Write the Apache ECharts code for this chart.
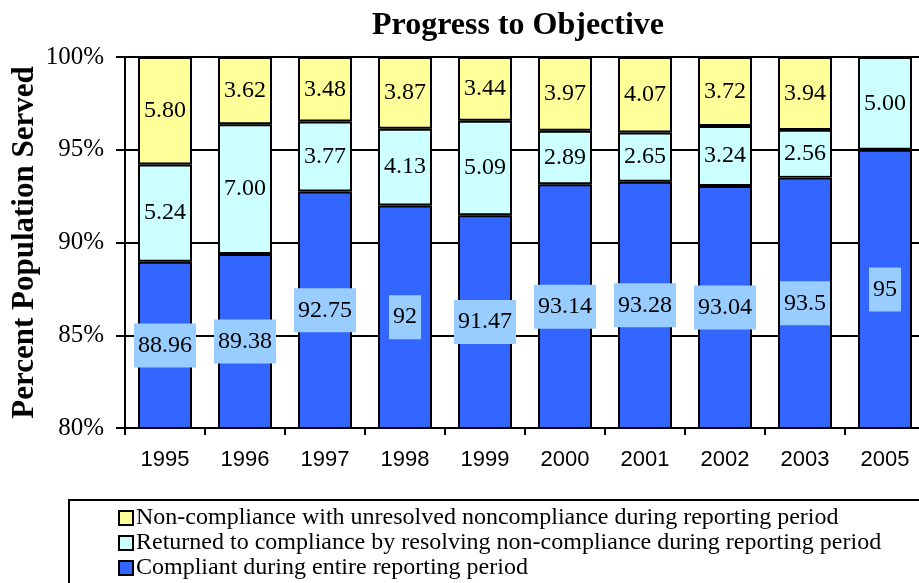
<!DOCTYPE html>
<html lang="en" style="background: #FFFFFF;height: 100%">
<head>
  <meta charset="utf-8" />
  <title>Progress to Objective</title>
  <script src="https://cdn.jsdelivr.net/npm/echarts@6/dist/echarts.min.js"></script>
</head>
<body style="margin: 0;height: 100%">
<div id="chart" style="width: 919px;height: 583px"></div>
<script>
  // data
  const years = ['1995', '1996', '1997', '1998', '1999', '2000', '2001', '2002', '2003', '2005'];
  const compliant = [88.96, 89.38, 92.75, 92, 91.47, 93.14, 93.28, 93.04, 93.5, 95];
  const returned = [5.24, 7.00, 3.77, 4.13, 5.09, 2.89, 2.65, 3.24, 2.56, 5.00];
  const unresolved = [5.80, 3.62, 3.48, 3.87, 3.44, 3.97, 4.07, 3.72, 3.94, null];
  const yTicks = [80, 85, 90, 95, 100];

  const serif = "'Liberation Serif', 'Times New Roman', serif";
  const sans = "'Liberation Sans', Arial, sans-serif";

  const chart = echarts.init(document.getElementById('chart'));

  function labelOf(bg, fmt) {
    return {
      show: true,
      position: 'inside',
      color: '#000',
      fontFamily: serif,
      fontSize: 24,
      lineHeight: 26,
      backgroundColor: bg,
      padding: [9, 4],
      formatter: fmt
    };
  }

  const option = {
    animation: false,
    title: {
      text: 'Progress to Objective',
      left: 367,
      top: 5,
      textStyle: { fontFamily: serif, fontSize: 32, fontWeight: 'bold', color: '#000' }
    },
    grid: { left: 125, right: -6, top: 57, bottom: 155, containLabel: false, outerBoundsMode: 'none' },
    legend: {
      orient: 'vertical',
      left: 118,
      top: 506,
      padding: 0,
      itemWidth: 14,
      itemHeight: 14,
      itemGap: 1,
      icon: 'rect',
      data: ['Non-compliance with unresolved noncompliance during reporting period',
             'Returned to compliance by resolving non-compliance during reporting period',
             'Compliant during entire reporting period'],
      textStyle: { fontFamily: serif, fontSize: 24, lineHeight: 24, color: '#000', padding: [0, 0, 0, -2] }
    },
    graphic: [{
      type: 'rect',
      shape: { x: 69, y: 500, width: 900, height: 120 },
      style: { fill: 'none', stroke: '#000', lineWidth: 2 },
      z: 10
    }],
    xAxis: {
      type: 'category',
      data: years,
      axisLine: { lineStyle: { color: '#000', width: 2 } },
      axisTick: { show: true, length: 7, lineStyle: { color: '#000', width: 2 } },
      axisLabel: { fontFamily: sans, fontSize: 22, color: '#000', margin: 21 }
    },
    yAxis: {
      type: 'value',
      min: 80,
      max: 100,
      interval: 5,
      name: 'Percent Population Served',
      nameLocation: 'middle',
      nameGap: 85,
      nameMoveOverlap: false,
      nameTextStyle: { fontFamily: serif, fontSize: 31, fontWeight: 'bold', color: '#000' },
      axisLine: { show: true, lineStyle: { color: '#000', width: 2 } },
      axisTick: { show: true, length: 9, lineStyle: { color: '#000', width: 2 } },
      axisLabel: {
        fontFamily: serif, fontSize: 25, color: '#000', margin: 21,
        formatter: v => yTicks.includes(v) ? v + '%' : ''
      },
      splitLine: { show: true, lineStyle: { color: '#000', width: 2 } }
    },
    series: [
      {
        name: 'Compliant during entire reporting period',
        type: 'bar',
        stack: 'total',
        barWidth: 54,
        data: compliant,
        itemStyle: { color: '#3366FF', borderColor: '#000', borderWidth: 2 },
        label: labelOf('#99CCFF', p => String(p.value))
      },
      {
        name: 'Returned to compliance by resolving non-compliance during reporting period',
        type: 'bar',
        stack: 'total',
        barWidth: 54,
        data: returned,
        itemStyle: { color: '#CCFFFF', borderColor: '#000', borderWidth: 2 },
        label: labelOf('#CCFFFF', p => p.value.toFixed(2))
      },
      {
        name: 'Non-compliance with unresolved noncompliance during reporting period',
        type: 'bar',
        stack: 'total',
        barWidth: 54,
        data: unresolved,
        itemStyle: { color: '#FFFF99', borderColor: '#000', borderWidth: 2 },
        label: labelOf('#FFFF99', p => p.value == null ? '' : p.value.toFixed(2))
      }
    ]
  };

  chart.setOption(option);
  window.addEventListener('resize', () => chart.resize());
</script>
</body>
</html>
